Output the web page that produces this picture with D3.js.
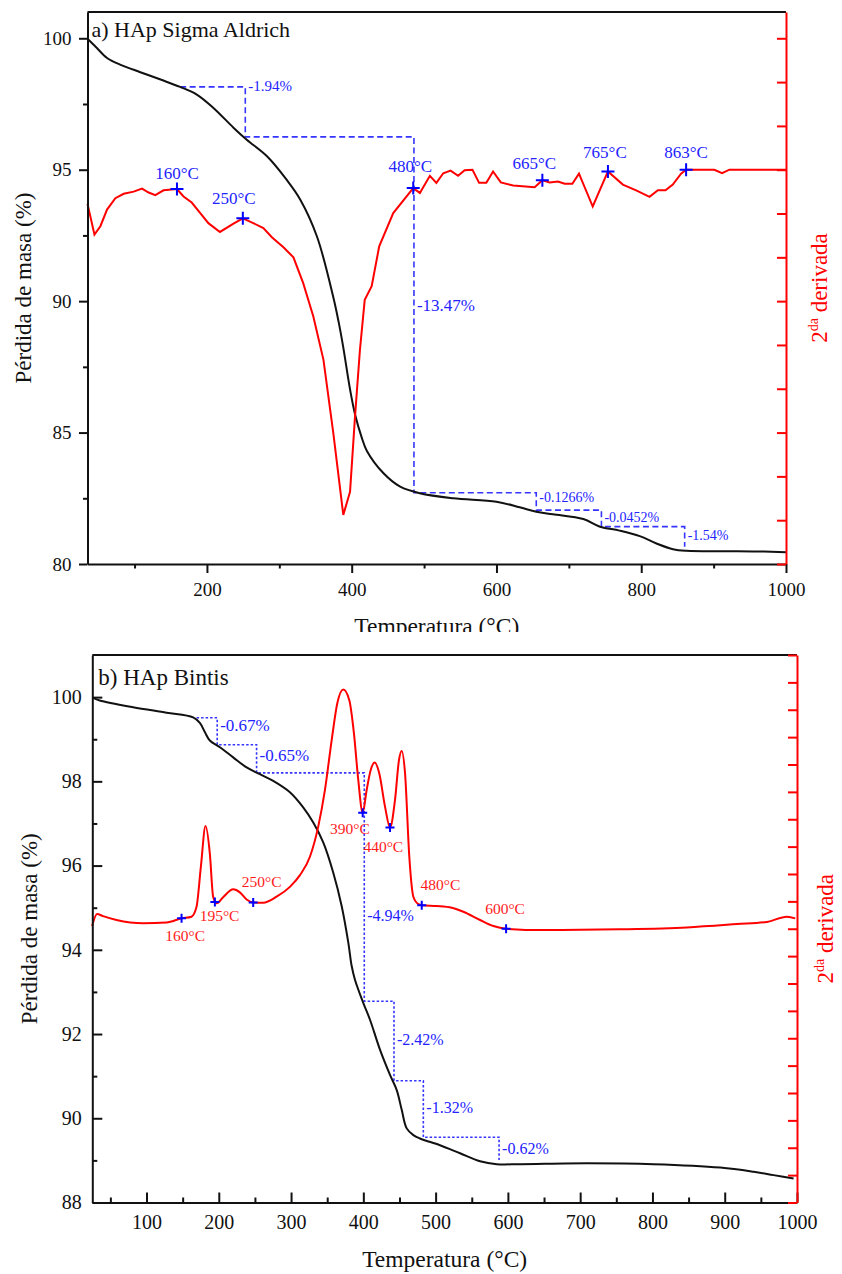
<!DOCTYPE html>
<html>
<head>
<meta charset="utf-8">
<script src="https://cdn.jsdelivr.net/npm/d3@7"></script>
<style>
  body { margin: 0; background: #fff; }
</style>
</head>
<body>
<script>
// ---------- data: panel a) HAp Sigma Aldrich ----------
var tgaTempA = [35, 48, 62, 80, 108, 136, 163, 186, 209, 237, 255, 283, 310, 329, 352, 375, 382, 388, 398, 405, 414, 421, 444, 467, 494, 540, 600, 632, 655, 678, 720, 743, 770, 798, 821, 844, 862, 954, 1000];
var tgaMassA = [99.98, 99.63, 99.25, 99.0, 98.71, 98.43, 98.15, 97.86, 97.35, 96.59, 96.14, 95.51, 94.62, 93.86, 92.46, 90.1, 89.2, 88.3, 86.6, 85.65, 84.8, 84.3, 83.45, 82.94, 82.69, 82.5, 82.37, 82.16, 81.99, 81.89, 81.71, 81.42, 81.27, 81.06, 80.78, 80.56, 80.5, 80.48, 80.45];

var derTempA = [35, 44.6, 52.8, 62, 73.5, 85, 98.8, 110.3, 119.5, 128.7, 140, 158.6, 167.7, 179, 190.8, 202, 218, 236.7, 249.6, 264, 278, 289.7, 305.7, 319.5, 333, 347, 361, 374.6, 388.4, 397.7, 404.6, 411.4, 418, 427.6, 438, 457.4, 485, 494.2, 508, 517, 526.5, 536.6, 547, 556, 566.9, 576, 586, 595.3, 606, 623, 652.8, 663.4, 673.5, 685, 694.2, 704.8, 714, 733, 754, 774.6, 793, 811.5, 823, 833.5, 843.6, 855, 862, 901, 911.7, 921.8, 1000];
var derValA = [-0.78, -1.48, -1.29, -0.91, -0.65, -0.55, -0.50, -0.43, -0.52, -0.58, -0.47, -0.44, -0.61, -0.75, -0.99, -1.22, -1.42, -1.23, -1.11, -1.22, -1.33, -1.54, -1.77, -2.0, -2.59, -3.35, -4.34, -6.01, -7.88, -7.35, -5.63, -4.11, -2.97, -2.66, -1.75, -0.99, -0.42, -0.53, -0.14, -0.30, -0.08, -0.02, -0.14, -0.01, 0, -0.30, -0.30, -0.04, -0.29, -0.36, -0.40, -0.24, -0.29, -0.27, -0.32, -0.32, -0.09, -0.84, -0.04, -0.34, -0.47, -0.62, -0.47, -0.47, -0.34, -0.09, 0, 0, -0.08, 0, 0];

var peakTempA = [158.6, 249.6, 485, 663.4, 754, 862];
var peakValA = [-0.44, -1.11, -0.42, -0.24, -0.04, 0];
var peakLabelA = ["160°C", "250°C", "480°C", "665°C", "765°C", "863°C"];

var stepTempA = [163, 253, 486, 655, 745, 860];
var stepMassA = [98.15, 96.25, 82.71, 82.05, 81.42, 80.66];
var stepLabelA = ["-1.94%", "-13.47%", "-0.1266%", "-0.0452%", "-1.54%"];

var xMajorA = [200, 400, 600, 800, 1000];
var xMinorA = [100, 300, 500, 700, 900];
var yMajorA = [80, 85, 90, 95, 100];
var yMinorA = [82.5, 87.5, 92.5, 97.5];

// ---------- data: panel b) HAp Bintis ----------
var tgaTempB = [26, 35.3, 81.4, 127.7, 164.5, 173.8, 180.7, 187.6, 201.5, 219.9, 238.5, 256.9, 275.3, 298.4, 316.8, 330.7, 344.5, 358.4, 370, 379.2, 383.8, 388.4, 399.9, 409.2, 423, 436.9, 446.2, 453.1, 460, 469.2, 478.4, 506, 533.8, 561.5, 584.6, 616.9, 709.3, 801.5, 893.9, 940, 967.6, 995.3];
var tgaMassB = [99.98, 99.92, 99.76, 99.63, 99.52, 99.39, 99.17, 98.97, 98.81, 98.57, 98.33, 98.17, 98.01, 97.74, 97.38, 97.02, 96.55, 95.83, 95.04, 94.17, 93.62, 93.29, 92.74, 92.34, 91.63, 91.03, 90.67, 90.20, 89.76, 89.60, 89.52, 89.36, 89.17, 88.98, 88.91, 88.91, 88.93, 88.91, 88.83, 88.73, 88.65, 88.57];

var derTempB = [24.7, 31.6, 39.9, 58.5, 95.3, 127.7, 148.5, 162.3, 169.2, 175.2, 181.7, 187.6, 192.2, 196.9, 206, 219.9, 229.2, 238.5, 247.6, 261.5, 280, 298.4, 312.3, 326.1, 337.6, 346.9, 356.2, 363.9, 372.2, 380.6, 387, 393, 399.1, 404.6, 410.2, 415.7, 422, 430, 436.9, 443.8, 449.3, 453.1, 457.7, 463.6, 469.2, 476.1, 480.8, 501.5, 522.3, 538.3, 561.5, 579.9, 597.5, 649, 755, 847.7, 916.9, 958.5, 986.2, 997.6];
var derValB = [0.10, 0.54, 0.46, 0.32, 0.20, 0.23, 0.38, 0.44, 0.80, 2.26, 3.75, 2.75, 1.17, 0.93, 1.15, 1.44, 1.33, 1.07, 0.96, 0.95, 1.17, 1.53, 1.96, 2.63, 3.73, 5.07, 6.89, 8.23, 8.74, 8.35, 7.14, 5.43, 4.24, 5.07, 5.80, 6.07, 5.68, 4.46, 3.70, 4.70, 6.16, 6.49, 5.68, 2.63, 1.17, 0.90, 0.86, 0.83, 0.77, 0.62, 0.32, 0.10, 0.0, -0.05, -0.02, 0.05, 0.17, 0.25, 0.44, 0.38];

var peakTempB = [148.5, 194.6, 247.6, 399.1, 436.9, 480.8, 597.5];
var peakValB = [0.38, 0.98, 0.96, 4.24, 3.70, 0.86, 0.0];
var peakLabelB = ["160°C", "195°C", "250°C", "390°C", "440°C", "480°C", "600°C"];

var stepTempB = [169.3, 197.8, 252.3, 401.3, 442.4, 483, 587.8];
var stepMassB = [99.51, 98.87, 98.20, 92.78, 90.89, 89.55, 89.01];
var stepLabelB = ["-0.67%", "-0.65%", "-4.94%", "-2.42%", "-1.32%", "-0.62%"];

var xMajorB = d3.range(100, 1001, 100);
var xMinorB = d3.range(50, 1000, 100);
var yMajorB = [88, 90, 92, 94, 96, 98, 100];
var yMinorB = [89, 91, 93, 95, 97, 99];

// ---------- drawing ----------
var W = 842, H = 1274;
var FONT = '"Liberation Serif", "Times New Roman", serif';
var RED = "#ff0000", BLUE = "#0000ff", BLUE_TXT = "#2323ff";

var svg = d3.select("body").append("svg")
  .attr("width", W)
  .attr("height", H)
  .style("font-family", FONT);

svg.append("rect").attr("width", W).attr("height", H).attr("fill", "#fff");

// clip for the first panel (its x title is cut off in the original)
svg.append("clipPath").attr("id", "clipA")
  .append("rect").attr("x", 0).attr("y", 0).attr("width", W).attr("height", 632);

function zip(a, b) {
  return a.map(function(d, i) { return [d, b[i]]; });
}

function styleAxis(sel, color, fontSize) {
  sel.attr("font-family", FONT).attr("font-size", fontSize);
  sel.selectAll("path, line").attr("stroke", color).attr("stroke-width", 2);
  sel.selectAll("text").attr("fill", "#111");
}

function drawPanel(p) {
  var x = d3.scaleLinear().domain(p.xDomain).range([p.left, p.right]);
  var y = d3.scaleLinear().domain(p.yDomain).range([p.bottom, p.top]);
  var yR = d3.scaleLinear().domain(p.rDomain).range([p.bottom, p.top]);

  var g = svg.append("g");
  if (p.clip) g.attr("clip-path", "url(#" + p.clip + ")");

  // step annotation (mass loss)
  var stepPts = [[p.stepTemp[0], p.stepMass[0]]];
  for (var i = 1; i < p.stepTemp.length; i++) {
    stepPts.push([p.stepTemp[i], p.stepMass[i - 1]]);
    stepPts.push([p.stepTemp[i], p.stepMass[i]]);
  }
  g.append("path")
    .attr("d", d3.line().x(d => x(d[0])).y(d => y(d[1]))(stepPts))
    .attr("fill", "none")
    .attr("stroke", "#3535ff")
    .attr("stroke-width", 1.6)
    .attr("stroke-dasharray", p.dash);

  for (var j = 1; j < p.stepTemp.length; j++) {
    var mid = (y(p.stepMass[j - 1]) + y(p.stepMass[j])) / 2;
    g.append("text")
      .attr("x", x(p.stepTemp[j]) + 3)
      .attr("y", mid + p.stepDy[j - 1])
      .attr("font-size", p.stepSize[j - 1])
      .attr("fill", BLUE_TXT)
      .text(p.stepLabel[j - 1]);
  }

  // TGA curve
  g.append("path")
    .attr("d", d3.line().x(d => x(d[0])).y(d => y(d[1])).curve(d3.curveCatmullRom.alpha(0.5))(zip(p.tgaTemp, p.tgaMass)))
    .attr("fill", "none")
    .attr("stroke", "#111")
    .attr("stroke-width", 2);

  // second derivative
  g.append("path")
    .attr("d", d3.line().x(d => x(d[0])).y(d => yR(d[1])).curve(p.derCurve)(zip(p.derTemp, p.derVal)))
    .attr("fill", "none")
    .attr("stroke", RED)
    .attr("stroke-width", 2);

  // peak markers + labels
  var s = p.markSize;
  p.peakTemp.forEach(function(t, k) {
    var cx = x(t), cy = yR(p.peakVal[k]);
    g.append("path")
      .attr("d", "M" + (cx - s) + "," + cy + "H" + (cx + s) + "M" + cx + "," + (cy - s) + "V" + (cy + s))
      .attr("stroke", BLUE)
      .attr("stroke-width", 2);
    g.append("text")
      .attr("x", cx + p.peakDx[k])
      .attr("y", cy + p.peakDy[k])
      .attr("text-anchor", "middle")
      .attr("font-size", p.peakSize)
      .attr("fill", p.peakColor)
      .text(p.peakLabel[k]);
  });

  // axes
  var inward = p.inward;
  var ax = g.append("g").attr("transform", "translate(0," + p.bottom + ")")
    .call(d3.axisBottom(x).tickValues(p.xMajor).tickSize(inward ? -10 : 9)
      .tickPadding(inward ? 12 : 9.5).tickSizeOuter(0).tickFormat(d3.format("d")));
  styleAxis(ax, "#111", p.tickFont);
  var axm = g.append("g").attr("transform", "translate(0," + p.bottom + ")")
    .call(d3.axisBottom(x).tickValues(p.xMinor).tickSize(inward ? -5 : 4.5).tickFormat(""));
  axm.select(".domain").remove();
  styleAxis(axm, "#111", p.tickFont);

  var ay = g.append("g").attr("transform", "translate(" + p.left + ",0)")
    .call(d3.axisLeft(y).tickValues(p.yMajor).tickSize(inward ? -10 : 8.5)
      .tickPadding(inward ? 10.5 : 7.5).tickSizeOuter(0).tickFormat(d3.format("d")));
  styleAxis(ay, "#111", p.tickFont);
  var aym = g.append("g").attr("transform", "translate(" + p.left + ",0)")
    .call(d3.axisLeft(y).tickValues(p.yMinor).tickSize(inward ? -5 : 4.5).tickFormat(""));
  aym.select(".domain").remove();
  styleAxis(aym, "#111", p.tickFont);

  g.append("line")
    .attr("x1", p.left).attr("x2", p.right)
    .attr("y1", p.top).attr("y2", p.top)
    .attr("stroke", "#111").attr("stroke-width", 2);

  var ar = g.append("g").attr("transform", "translate(" + p.right + ",0)")
    .call(d3.axisLeft(yR).tickValues(p.rTicks).tickSize(9).tickSizeOuter(0).tickFormat(""));
  styleAxis(ar, RED, p.tickFont);

  // titles
  g.append("text")
    .attr("x", p.left + p.titleDx)
    .attr("y", p.titleY)
    .attr("font-size", p.titleSize)
    .attr("fill", "#111")
    .text(p.title);

  g.append("text")
    .attr("x", (p.left + p.right) / 2 + p.xTitleDx)
    .attr("y", p.xTitleY)
    .attr("text-anchor", "middle")
    .attr("font-size", 23.5)
    .attr("fill", "#111")
    .text("Temperatura (°C)");

  g.append("text")
    .attr("transform", "translate(" + p.yTitleX + "," + (p.top + p.bottom) / 2 + ") rotate(-90)")
    .attr("text-anchor", "middle")
    .attr("font-size", 23)
    .attr("fill", "#111")
    .text("Pérdida de masa (%)");

  var rt = g.append("text")
    .attr("transform", "translate(" + p.rTitleX + "," + (p.top + p.bottom) / 2 + ") rotate(-90)")
    .attr("text-anchor", "middle")
    .attr("font-size", 23)
    .attr("fill", RED);
  rt.append("tspan").text("2");
  rt.append("tspan").attr("font-size", 14).attr("dy", -9).text("da");
  rt.append("tspan").attr("dy", 9).text(" derivada");
}

drawPanel({
  left: 87.5, right: 786, top: 12, bottom: 564,
  xDomain: [35, 1000], yDomain: [80, 101], rDomain: [-9, 3.6], rTicks: d3.range(-9, 4),
  xMajor: xMajorA, xMinor: xMinorA, yMajor: yMajorA, yMinor: yMinorA,
  inward: false, tickFont: 19,
  tgaTemp: tgaTempA, tgaMass: tgaMassA,
  derTemp: derTempA, derVal: derValA, derCurve: d3.curveLinear,
  stepTemp: stepTempA, stepMass: stepMassA, stepLabel: stepLabelA,
  stepDy: [-20.6, -4, 0.5, 3.5, 3.3], stepSize: [15, 17, 14, 14, 14], dash: "6,3.5",
  peakTemp: peakTempA, peakVal: peakValA, peakLabel: peakLabelA,
  peakDx: [0, -9, -3, -8, -3, 0], peakDy: [-10, -14, -16.5, -11.5, -13.5, -12],
  peakSize: 17, peakColor: BLUE_TXT, markSize: 6.5,
  title: "a) HAp Sigma Aldrich", titleDx: 4, titleY: 36.5, titleSize: 22,
  xTitleY: 634, xTitleDx: 0, yTitleX: 31, rTitleX: 827, clip: "clipA"
});

drawPanel({
  left: 92.3, right: 797, top: 655, bottom: 1202.5,
  xDomain: [25, 1000], yDomain: [88, 101], rDomain: [-10, 10], rTicks: d3.range(-10, 11),
  xMajor: xMajorB, xMinor: xMinorB, yMajor: yMajorB, yMinor: yMinorB,
  inward: true, tickFont: 20,
  tgaTemp: tgaTempB, tgaMass: tgaMassB,
  derTemp: derTempB, derVal: derValB, derCurve: d3.curveMonotoneX,
  stepTemp: stepTempB, stepMass: stepMassB, stepLabel: stepLabelB,
  stepDy: [0, 2, 34, 4, 4, 5], stepSize: [17, 17, 16, 16, 16, 16], dash: "2.5,2",
  peakTemp: peakTempB, peakVal: peakValB, peakLabel: peakLabelB,
  peakDx: [3.6, 4.7, 8.4, -12.7, -6.7, 18.6, -1], peakDy: [22.3, 19, -15, 21.3, 24.4, -15.7, -14.7],
  peakSize: 15.5, peakColor: "#ff1a1a", markSize: 4.5,
  title: "b) HAp Bintis", titleDx: 6, titleY: 685, titleSize: 23,
  xTitleY: 1266.5, xTitleDx: 0, yTitleX: 37, rTitleX: 833, clip: null
});
</script>
</body>
</html>
